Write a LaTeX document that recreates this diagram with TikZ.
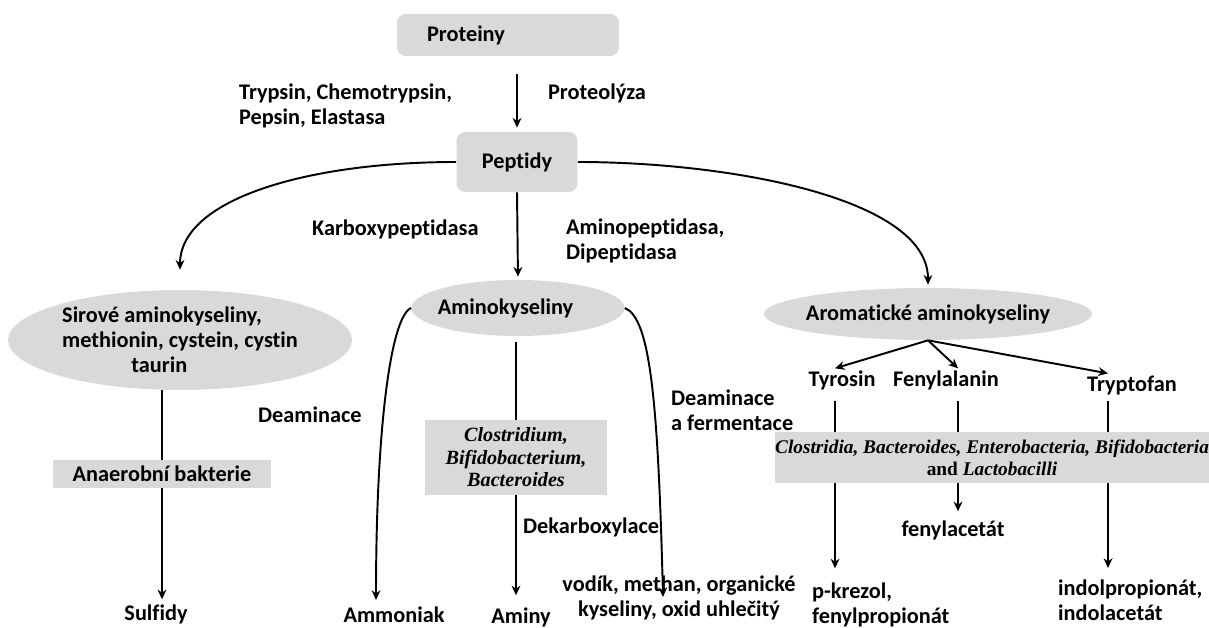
\documentclass[tikz,border=0pt]{standalone}
\usepackage{fontspec}
\setmainfont{Carlito}[Ligatures=NoCommon]
\newfontfamily\bactfont{Liberation Serif}
\usepackage{xcolor}
\usepackage{tikz}
\usetikzlibrary{shapes.geometric,arrows.meta}
\definecolor{boxgray}{RGB}{217,217,217}
\newcommand\lblfont{\fontsize{12.7}{14.2}\selectfont\bfseries}
\newcommand\bactsize{\fontsize{11.5}{12.8}\selectfont\bactfont\bfseries}
\tikzset{
  graybox/.style={fill=boxgray, rounded corners=5pt, inner sep=0pt, font=\lblfont},
  grayrect/.style={fill=boxgray, inner sep=0pt},
  grayoval/.style={ellipse, fill=boxgray, inner sep=0pt, font=\lblfont},
  lbl/.style={font=\lblfont, inner sep=1pt},
  arr/.style={-{Stealth[length=5.5pt,width=5pt]}, line width=1.1pt},
  ln/.style={line width=1.1pt}
}

\begin{document}
\begin{tikzpicture}[x=0.02cm, y=-0.02cm]
\useasboundingbox (0,0) rectangle (1209,628);

% proteiny -> peptidy
\node[graybox, minimum height=0.84cm, text width=3.24cm, inner xsep=0.6cm, align=left] (proteiny) at (508,35) {Proteiny};
\node[graybox, minimum width=2.42cm, minimum height=1.2cm] (peptidy) at (517,162) {Peptidy};
\node[lbl, anchor=west, align=left] (trypsin) at (237,106) {Trypsin, Chemotrypsin,\\Pepsin, Elastasa};
\node[lbl, anchor=west] (proteolyza) at (546,93) {Proteolýza};
\draw[arr, shorten <=0.36cm, shorten >=0.08cm] (proteiny.south -| peptidy.north) -- (peptidy.north);

% three groups
\node[grayoval, minimum width=6.88cm, minimum height=2cm, align=left] (sirove) at (180,340) {Sirové aminokyseliny,\\methionin, cystein, cystin\\\hspace*{3.1em}taurin};
\node[grayoval, minimum width=4.26cm, minimum height=1.12cm] (amino) at (518,308) {\makebox[2.5cm]{Aminokyseliny\hspace*{0.5cm}}};
\node[grayoval, minimum width=6.56cm, minimum height=1.04cm] (aromat) at (928,314) {\makebox[4cm]{Aromatické aminokyseliny}};
\node[lbl, anchor=west] (karboxy) at (310,229) {Karboxypeptidasa};
\node[lbl, anchor=west, align=left] (aminopep) at (564,241) {Aminopeptidasa,\\Dipeptidasa};
\draw[arr] (peptidy.west) .. controls +(-150,0) and +(0,-90) .. (sirove.north) [shorten >=0.4cm];
\draw[arr, shorten >=0.06cm] (peptidy.south) -- (amino.north);
\draw[arr, shorten >=0.06cm] (peptidy.east) .. controls +(150,0) and +(0,-90) .. (aromat.north);

% sirove aminokyseliny
\node[grayrect, font=\lblfont, minimum width=4.38cm, minimum height=0.56cm] (anaer) at (162,474) {Anaerobní bakterie};
\node[lbl] (sulfidy) at (156,614) {Sulfidy};
\draw[ln] (sirove.south -| anaer.north) -- (anaer.north);
\draw[arr, shorten >=0.06cm] (anaer.south) -- (anaer.south |- sulfidy.north);

% aminokyseliny
\node[grayrect, font=\bactsize, align=center, minimum width=3.66cm, minimum height=1.5cm] (clost) at (516,457.5) {\textit{Clostridium,}\\\textit{Bifidobacterium,}\\\textit{Bacteroides}};
\node[lbl, anchor=west] (deam1) at (256,415) {Deaminace};
\node[lbl, anchor=west, align=left] (deam2) at (669,410) {Deaminace\\a fermentace};
\node[lbl, anchor=west] (dekarb) at (521,527) {Dekarboxylace};
\node[lbl] (ammoniak) at (394,615) {Ammoniak};
\node[lbl] (aminy) at (521,617) {Aminy};
\node[lbl, align=center] (vodik) at (679,598) {vodík, methan, organické\\kyseliny, oxid uhlečitý};
\coordinate (vodtip) at (663,597);
\draw[arr, shorten >=0.1cm] (amino.west) .. controls +(-20,8) and +(0,-180) .. ([xshift=-0.36cm]ammoniak.north);
\draw[ln, shorten <=0.12cm] (amino.south -| clost.north) -- (clost.north);
\draw[arr, shorten >=0.2cm] (clost.south) -- (clost.south |- aminy.north);
\draw[arr] (amino.east) .. controls +(25,10) and +(-5,-200) .. (vodtip);

% aromaticke aminokyseliny
\node[lbl] (tyrosin) at (842,380) {Tyrosin};
\node[lbl] (fenyl) at (946,380) {Fenylalanin};
\node[lbl] (tryptofan) at (1132,385) {Tryptofan};
\coordinate (ctyr) at (835,0);
\coordinate (cfen) at (958,0);
\coordinate (ctry) at (1108,0);
\node[grayrect, font=\fontsize{11}{12.5}\selectfont\bactfont\bfseries, align=center, minimum width=8.68cm, minimum height=1.02cm] (bigbox) at (992,457.5) {\textit{Clostridia, Bacteroides, Enterobacteria, Bifidobacteria}\\and \textit{Lactobacilli}};
\node[lbl, anchor=west, align=left] (pkrezol) at (810,605) {p-krezol,\\fenylpropionát};
\node[lbl] (fenylacetat) at (953,530) {fenylacetát};
\node[lbl, anchor=west, align=left] (indol) at (1056,600) {indolpropionát,\\indolacetát};
\draw[arr] (aromat.south) -- (ctyr |- tyrosin.north);
\draw[arr] (aromat.south) -- (cfen |- fenyl.north);
\draw[arr] (aromat.south) -- (ctry |- tryptofan.north);
\draw[ln, shorten <=0.18cm] (ctyr |- tyrosin.south) -- (ctyr |- bigbox.north);
\draw[ln, shorten <=0.18cm] (cfen |- fenyl.south) -- (cfen |- bigbox.north);
\draw[ln, shorten <=0.08cm] (ctry |- tryptofan.south) -- (ctry |- bigbox.north);
\draw[arr, shorten >=0.25cm] (ctyr |- bigbox.south) -- (ctyr |- pkrezol.north);
\draw[arr, shorten >=0.14cm] (cfen |- bigbox.south) -- (cfen |- fenylacetat.north);
\draw[arr, shorten >=0.19cm] (ctry |- bigbox.south) -- (ctry |- indol.north);
\end{tikzpicture}
\end{document}
